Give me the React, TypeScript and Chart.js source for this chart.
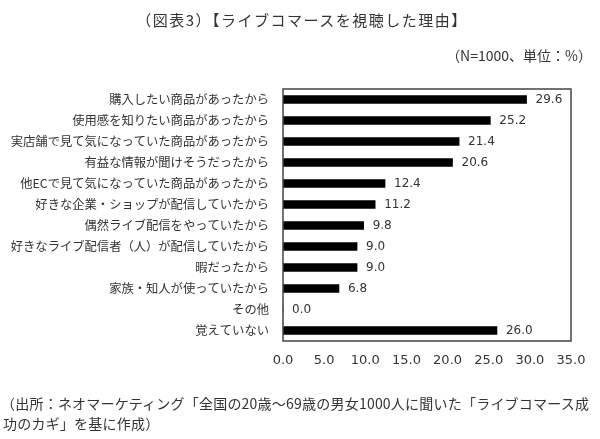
import React, { useEffect, useRef } from "react";
import { Chart, registerables } from "chart.js";

Chart.register(...registerables);

const categories: string[] = [
  "購入したい商品があったから",
  "使用感を知りたい商品があったから",
  "実店舗で見て気になっていた商品があったから",
  "有益な情報が聞けそうだったから",
  "他ECで見て気になっていた商品があったから",
  "好きな企業・ショップが配信していたから",
  "偶然ライブ配信をやっていたから",
  "好きなライブ配信者（人）が配信していたから",
  "暇だったから",
  "家族・知人が使っていたから",
  "その他",
  "覚えていない",
];

const values: number[] = [29.6, 25.2, 21.4, 20.6, 12.4, 11.2, 9.8, 9.0, 9.0, 6.8, 0.0, 26.0];

const xTicks: number[] = [0, 5, 10, 15, 20, 25, 30, 35];

const titleText = "（図表3）【ライブコマースを視聴した理由】";
const unitText = "（N=1000、単位：%）";
const sourceLine1 = "（出所：ネオマーケティング「全国の20歳～69歳の男女1000人に聞いた「ライブコマース成";
const sourceLine2 = "功のカギ」を基に作成）";

const TEXT_COLOR = "#333333";

const boxPlugin = {
  id: "boxPlugin",
  afterDraw(chart: any) {
    const { ctx, chartArea } = chart;
    ctx.save();
    ctx.strokeStyle = "#444444";
    ctx.lineWidth = 1.5;
    ctx.strokeRect(chartArea.left, chartArea.top, chartArea.right - chartArea.left, chartArea.bottom - chartArea.top);
    ctx.restore();
  },
};

const labelPlugin = {
  id: "labelPlugin",
  afterDatasetsDraw(chart: any) {
    const { ctx } = chart;
    const meta = chart.getDatasetMeta(0);
    ctx.save();
    ctx.fillStyle = TEXT_COLOR;
    ctx.font = "12px 'DejaVu Sans'";
    ctx.textAlign = "left";
    ctx.textBaseline = "middle";
    meta.data.forEach((bar: any, i: number) => {
      const v = values[i];
      ctx.fillText(v.toFixed(1), bar.x + 9, bar.y);
    });
    ctx.restore();
  },
};

export default function App() {
  const canvasRef = useRef<HTMLCanvasElement | null>(null);

  useEffect(() => {
    if (!canvasRef.current) return;
    const chart = new Chart(canvasRef.current, {
      type: "bar",
      data: {
        labels: categories,
        datasets: [
          {
            data: values,
            backgroundColor: "#000000",
            borderWidth: 0,
            barThickness: 8,
          },
        ],
      },
      options: {
        indexAxis: "y",
        animation: false,
        responsive: false,
        maintainAspectRatio: false,
        layout: { padding: { left: 0, right: 29, top: 89, bottom: 68 } },
        plugins: {
          legend: { display: false },
          tooltip: { enabled: false },
        },
        scales: {
          x: {
            min: 0,
            max: 35,
            grid: { display: false, drawTicks: false },
            border: { display: false },
            afterBuildTicks: (scale: any) => {
              scale.ticks = xTicks.map((v) => ({ value: v }));
            },
            afterFit: (scale: any) => {
              scale.height = 30;
            },
            ticks: {
              padding: 12,
              color: TEXT_COLOR,
              font: { family: "'DejaVu Sans'", size: 13 },
              maxRotation: 0,
              callback: (v: any) => Number(v).toFixed(1),
            },
          },
          y: {
            grid: { display: false, drawTicks: false },
            border: { display: false },
            afterFit: (scale: any) => {
              scale.width = 283;
            },
            ticks: {
              padding: 14,
              color: TEXT_COLOR,
              font: { family: "'Noto Sans CJK JP'", size: 12.3 },
            },
          },
        },
      },
      plugins: [boxPlugin, labelPlugin],
    });
    return () => chart.destroy();
  }, []);

  const base: React.CSSProperties = {
    position: "absolute",
    fontFamily: "'Noto Sans CJK JP'",
    color: TEXT_COLOR,
    whiteSpace: "nowrap",
  };

  return (
    <div style={{ position: "fixed", left: 0, top: 0, width: 600, height: 439, background: "#fff", overflow: "hidden" }}>
      <canvas ref={canvasRef} width={600} height={439} style={{ position: "absolute", left: 0, top: 0, width: 600, height: 439 }} />
      <div style={{ ...base, left: 0, width: 604, top: 10, textAlign: "center", fontSize: 15, lineHeight: "20px", letterSpacing: "1.5px" }}>{titleText}</div>
      <div style={{ ...base, right: 8, top: 45, fontSize: 14, lineHeight: "20px" }}>{unitText}</div>
      <div style={{ ...base, left: 1, top: 393, fontSize: 14, lineHeight: "20px", letterSpacing: "0.22px" }}>
        {sourceLine1}
        <br />
        <span style={{ marginLeft: 2 }}>{sourceLine2}</span>
      </div>
    </div>
  );
}
